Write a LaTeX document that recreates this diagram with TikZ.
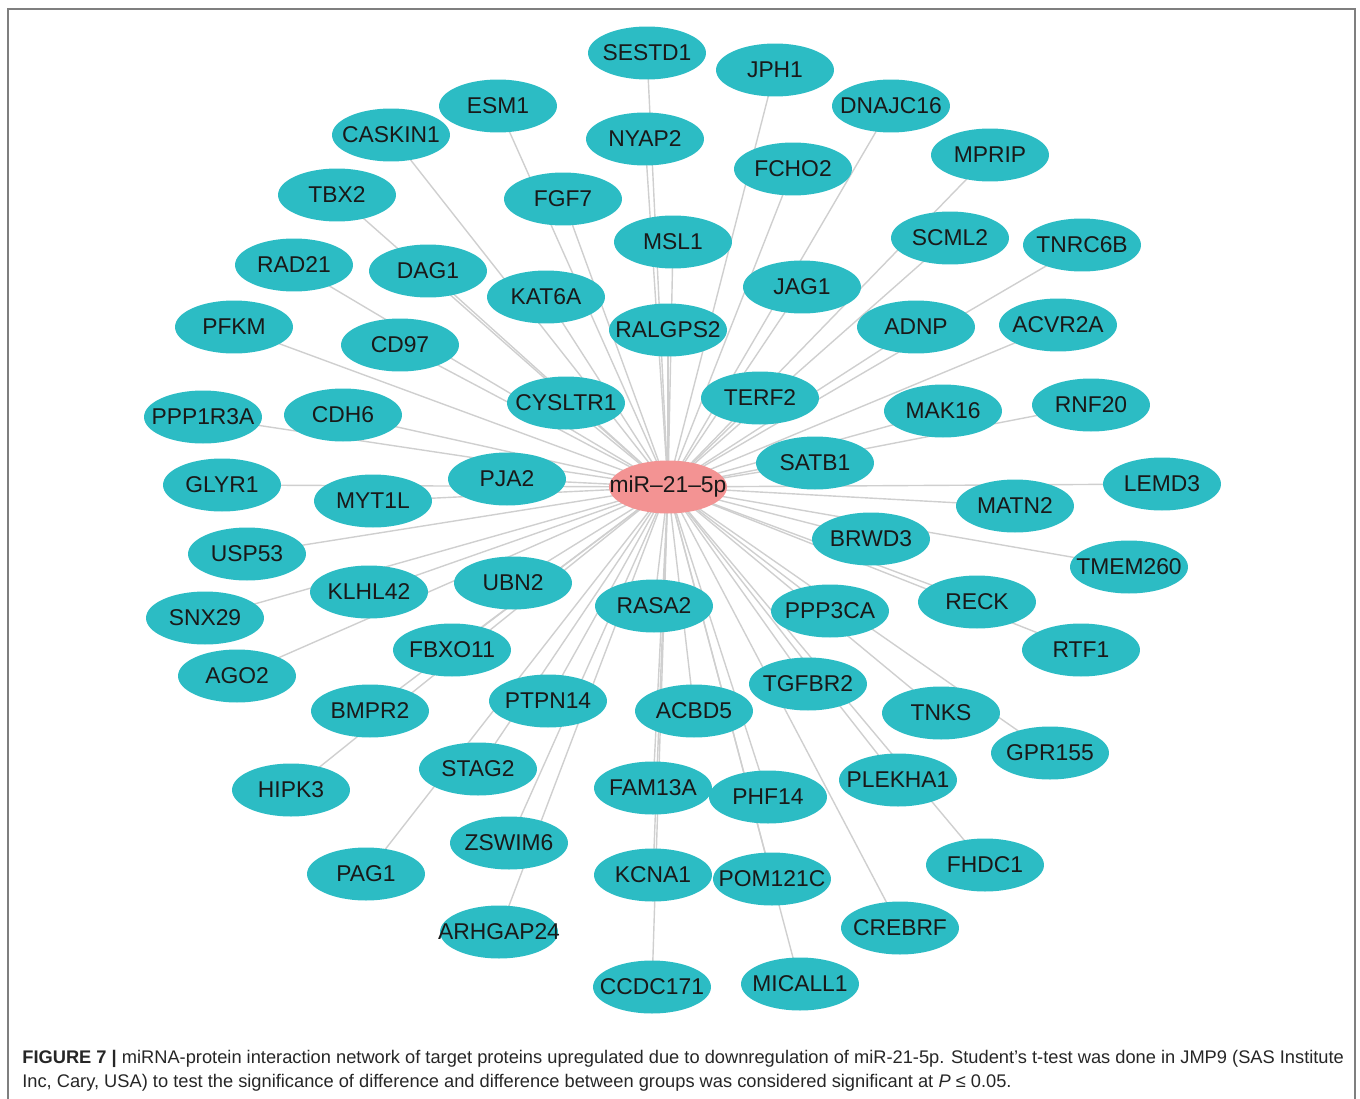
\documentclass[tikz,border=0pt]{standalone}
\usepackage{fontspec}
\setmainfont{Liberation Sans}
\usetikzlibrary{shapes.geometric,backgrounds}
\definecolor{protcol}{HTML}{2CBCC4}
\definecolor{mircol}{HTML}{F39393}
\definecolor{edgecol}{HTML}{CFCFCF}
\definecolor{framecol}{HTML}{7F7F7F}
\newcommand{\lbl}[1]{\makebox[0pt]{#1}}

\begin{document}
\begin{tikzpicture}[x=0.02cm, y=-0.02cm,
    prot/.style={ellipse, fill=protcol, minimum width=2.36cm, minimum height=1.06cm,
        inner sep=0pt, text=black!90, font=\fontsize{13}{15}\selectfont},
    mirna/.style={prot, fill=mircol},
    edge/.style={edgecol, line width=0.8pt}]
    \useasboundingbox (0,0) rectangle (1360,1099);

    %Frame, open at the bottom
    \draw[framecol, line width=1.1pt] (8,1099) -- (8,9) -- (1355,9) -- (1355,1099);

    %Hub
    \node[mirna] (mir) at (668,487) {\lbl{miR–21–5p}};

    %Targets, top half
    \node[prot] (sestd1) at (647,53) {\lbl{SESTD1}};
    \node[prot] (jph1) at (775,70) {\lbl{JPH1}};
    \node[prot] (dnajc16) at (891,106) {\lbl{DNAJC16}};
    \node[prot] (esm1) at (498,106) {\lbl{ESM1}};
    \node[prot] (caskin1) at (391,135) {\lbl{CASKIN1}};
    \node[prot] (nyap2) at (645,139) {\lbl{NYAP2}};
    \node[prot] (mprip) at (990,155) {\lbl{MPRIP}};
    \node[prot] (fcho2) at (793,169) {\lbl{FCHO2}};
    \node[prot] (tbx2) at (337,195) {\lbl{TBX2}};
    \node[prot] (fgf7) at (563,199) {\lbl{FGF7}};
    \node[prot] (msl1) at (673,242) {\lbl{MSL1}};
    \node[prot] (scml2) at (950,238) {\lbl{SCML2}};
    \node[prot] (tnrc6b) at (1082,245) {\lbl{TNRC6B}};
    \node[prot] (rad21) at (294,265) {\lbl{RAD21}};
    \node[prot] (dag1) at (428,271) {\lbl{DAG1}};
    \node[prot] (jag1) at (802,287) {\lbl{JAG1}};
    \node[prot] (kat6a) at (546,297) {\lbl{KAT6A}};
    \node[prot] (pfkm) at (234,327) {\lbl{PFKM}};
    \node[prot] (adnp) at (916,327) {\lbl{ADNP}};
    \node[prot] (acvr2a) at (1058,325) {\lbl{ACVR2A}};
    \node[prot] (ralgps2) at (668,330) {\lbl{RALGPS2}};
    \node[prot] (cd97) at (400,345) {\lbl{CD97}};
    \node[prot] (terf2) at (760,398) {\lbl{TERF2}};
    \node[prot] (cysltr1) at (566,403) {\lbl{CYSLTR1}};
    \node[prot] (mak16) at (943,411) {\lbl{MAK16}};
    \node[prot] (rnf20) at (1091,405) {\lbl{RNF20}};
    \node[prot] (ppp1r3a) at (203,417) {\lbl{PPP1R3A}};
    \node[prot] (cdh6) at (343,415) {\lbl{CDH6}};
    \node[prot] (satb1) at (815,463) {\lbl{SATB1}};
    \node[prot] (pja2) at (507,479) {\lbl{PJA2}};
    \node[prot] (glyr1) at (222,485) {\lbl{GLYR1}};
    \node[prot] (myt1l) at (373,501) {\lbl{MYT1L}};
    \node[prot] (lemd3) at (1162,484) {\lbl{LEMD3}};
    \node[prot] (matn2) at (1015,506) {\lbl{MATN2}};

    %Targets, bottom half
    \node[prot] (brwd3) at (871,539) {\lbl{BRWD3}};
    \node[prot] (tmem260) at (1129,567) {\lbl{TMEM260}};
    \node[prot] (usp53) at (247,554) {\lbl{USP53}};
    \node[prot] (klhl42) at (369,592) {\lbl{KLHL42}};
    \node[prot] (ubn2) at (513,583) {\lbl{UBN2}};
    \node[prot] (rasa2) at (654,606) {\lbl{RASA2}};
    \node[prot] (ppp3ca) at (830,611) {\lbl{PPP3CA}};
    \node[prot] (reck) at (977,602) {\lbl{RECK}};
    \node[prot] (snx29) at (205,618) {\lbl{SNX29}};
    \node[prot] (rtf1) at (1081,650) {\lbl{RTF1}};
    \node[prot] (fbxo11) at (452,650) {\lbl{FBXO11}};
    \node[prot] (ago2) at (237,676) {\lbl{AGO2}};
    \node[prot] (tgfbr2) at (808,684) {\lbl{TGFBR2}};
    \node[prot] (ptpn14) at (548,701) {\lbl{PTPN14}};
    \node[prot] (acbd5) at (694,711) {\lbl{ACBD5}};
    \node[prot] (tnks) at (941,713) {\lbl{TNKS}};
    \node[prot] (bmpr2) at (370,711) {\lbl{BMPR2}};
    \node[prot] (gpr155) at (1050,753) {\lbl{GPR155}};
    \node[prot] (stag2) at (478,769) {\lbl{STAG2}};
    \node[prot] (hipk3) at (291,790) {\lbl{HIPK3}};
    \node[prot] (fam13a) at (653,788) {\lbl{FAM13A}};
    \node[prot] (phf14) at (768,797) {\lbl{PHF14}};
    \node[prot] (plekha1) at (898,780) {\lbl{PLEKHA1}};
    \node[prot] (zswim6) at (509,843) {\lbl{ZSWIM6}};
    \node[prot] (fhdc1) at (985,865) {\lbl{FHDC1}};
    \node[prot] (pag1) at (366,874) {\lbl{PAG1}};
    \node[prot] (kcna1) at (653,875) {\lbl{KCNA1}};
    \node[prot] (pom121c) at (772,879) {\lbl{POM121C}};
    \node[prot] (crebrf) at (900,928) {\lbl{CREBRF}};
    \node[prot] (arhgap24) at (499,932) {\lbl{ARHGAP24}};
    \node[prot] (ccdc171) at (652,987) {\lbl{CCDC171}};
    \node[prot] (micall1) at (800,984) {\lbl{MICALL1}};

    %Interactions
    \begin{scope}[on background layer]
    \foreach \t in {sestd1,jph1,dnajc16,esm1,caskin1,nyap2,mprip,fcho2,tbx2,fgf7,
        msl1,scml2,tnrc6b,rad21,dag1,jag1,kat6a,pfkm,adnp,acvr2a,ralgps2,cd97,
        terf2,cysltr1,mak16,rnf20,ppp1r3a,cdh6,satb1,pja2,glyr1,myt1l,lemd3,matn2,
        brwd3,tmem260,usp53,klhl42,ubn2,rasa2,ppp3ca,reck,snx29,rtf1,fbxo11,ago2,
        tgfbr2,ptpn14,acbd5,tnks,bmpr2,gpr155,stag2,hipk3,fam13a,phf14,plekha1,
        zswim6,fhdc1,pag1,kcna1,pom121c,crebrf,arhgap24,ccdc171,micall1}
        \draw[edge] (mir.center) -- (\t.center);
    \end{scope}

    %Caption
    \node[anchor=north west, align=left, inner sep=0pt, text=black!85,
        font=\fontsize{10.4}{13.4}\selectfont] (caption) at (22,1050)
        {\textbf{FIGURE 7 |} miRNA-protein interaction network of target proteins upregulated due to downregulation of miR-21-5p. Student’s t-test was done in JMP9 (SAS Institute\\
        Inc, Cary, USA) to test the significance of difference and difference between groups was considered significant at \textit{P} ≤ 0.05.};
\end{tikzpicture}
\end{document}
